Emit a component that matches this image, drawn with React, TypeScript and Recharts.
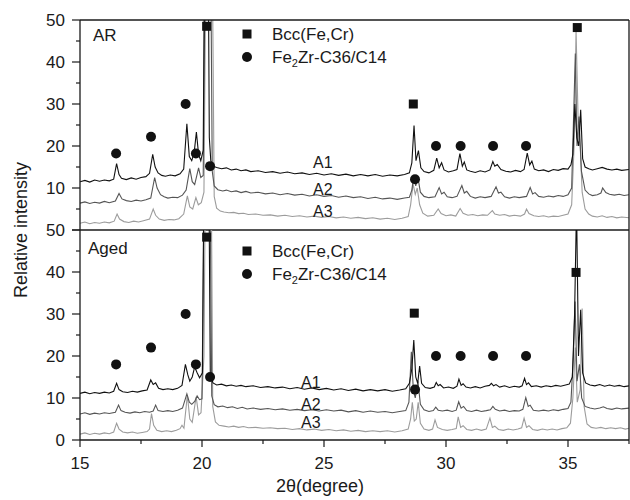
import React from "react";
import { LineChart, Line, XAxis, YAxis, Scatter } from "recharts";

const FONT = "'Liberation Sans', Arial, sans-serif";
const INK = "#1a1a1a";

// tick positions
const xTicks = [15, 17.5, 20, 22.5, 25, 27.5, 30, 32.5, 35, 37.5];
const xMajor = [15, 20, 25, 30, 35];
const yTicks = [0, 5, 10, 15, 20, 25, 30, 35, 40, 45, 50];
const yMajor = [0, 10, 20, 30, 40, 50];
const yLabelsTop = [10, 20, 30, 40, 50];
const yLabelsBottom = [0, 10, 20, 30, 40, 50];

// AR panel, [2theta, intensity]
const arA1 = [
  [15.0, 11.5], [15.2, 11.8], [15.4, 11.4], [15.6, 11.9], [15.8, 11.6], [16.0, 11.9], [16.2, 11.7], [16.38, 12.1],
  [16.5, 15.8], [16.6, 13.2], [16.7, 12.3], [16.9, 12.0], [17.1, 12.4], [17.3, 12.1], [17.5, 12.5], [17.7, 12.7],
  [17.85, 13.5], [17.98, 18.0], [18.08, 15.0], [18.2, 13.6], [18.35, 13.0], [18.5, 12.8], [18.7, 13.1], [18.9, 12.9],
  [19.1, 13.4], [19.25, 14.5], [19.38, 25.3], [19.48, 17.5], [19.58, 16.5], [19.68, 18.5], [19.77, 23.3], [19.86, 18.0],
  [19.95, 16.5], [20.05, 19.0], [20.12, 80], [20.24, 80], [20.3, 22], [20.36, 16.5], [20.45, 15.2], [20.6, 14.9],
  [20.8, 14.6], [21.0, 14.8], [21.2, 14.3], [21.4, 14.5], [21.6, 14.1], [21.8, 14.3], [22.0, 13.9], [22.3, 14.1],
  [22.6, 13.7], [22.9, 13.9], [23.2, 13.5], [23.5, 13.8], [23.8, 13.4], [24.1, 13.6], [24.4, 13.2], [24.7, 13.5],
  [25.0, 13.1], [25.3, 13.4], [25.6, 13.0], [25.9, 13.3], [26.2, 12.9], [26.5, 13.2], [26.8, 12.9], [27.1, 13.2],
  [27.4, 12.8], [27.7, 13.1], [28.0, 12.9], [28.3, 13.2], [28.5, 13.6], [28.6, 16.0], [28.69, 24.9], [28.77, 16.5],
  [28.87, 18.9], [28.97, 14.8], [29.1, 13.9], [29.3, 13.6], [29.5, 14.2], [29.62, 17.1], [29.72, 14.8], [29.82, 16.0],
  [29.92, 14.3], [30.1, 13.8], [30.3, 14.1], [30.45, 14.4], [30.57, 18.2], [30.67, 15.2], [30.75, 16.2], [30.85, 14.3],
  [31.0, 14.0], [31.2, 13.7], [31.4, 14.1], [31.6, 13.8], [31.8, 14.3], [31.92, 16.3], [32.0, 15.2], [32.1, 15.6],
  [32.25, 14.4], [32.45, 14.0], [32.65, 13.8], [32.85, 14.2], [33.05, 13.9], [33.2, 14.4], [33.33, 18.3], [33.43, 15.5],
  [33.52, 16.4], [33.62, 14.5], [33.8, 14.1], [34.0, 14.3], [34.2, 13.9], [34.4, 14.4], [34.6, 14.2], [34.8, 14.6],
  [35.0, 14.5], [35.12, 15.5], [35.2, 18], [35.28, 30], [35.36, 22], [35.44, 20], [35.52, 28.6], [35.6, 17],
  [35.7, 15], [35.85, 14.6], [36.0, 14.3], [36.2, 14.6], [36.4, 14.9], [36.6, 14.5], [36.8, 14.3], [37.0, 14.5],
  [37.2, 14.2], [37.5, 14.4],
];

const arA2 = [
  [15.0, 6.4], [15.2, 6.7], [15.4, 6.3], [15.6, 6.6], [15.8, 6.4], [16.0, 6.8], [16.2, 6.5], [16.45, 6.9],
  [16.6, 8.7], [16.72, 7.4], [16.9, 7.0], [17.1, 6.8], [17.3, 7.1], [17.5, 6.9], [17.7, 7.2], [17.9, 7.6],
  [18.06, 12.5], [18.16, 10.0], [18.3, 8.4], [18.45, 7.9], [18.6, 7.6], [18.8, 7.8], [19.0, 7.7], [19.2, 8.3],
  [19.35, 9.5], [19.5, 14.6], [19.6, 11.5], [19.7, 10.8], [19.86, 14.8], [19.95, 12.5], [20.05, 13], [20.15, 80],
  [20.34, 80], [20.42, 14], [20.5, 10.5], [20.65, 9.6], [20.85, 9.3], [21.0, 9.5], [21.2, 9.1], [21.4, 9.3],
  [21.6, 8.9], [21.8, 9.2], [22.0, 8.8], [22.3, 9.0], [22.6, 8.6], [22.9, 8.8], [23.2, 8.4], [23.5, 8.7],
  [23.8, 8.3], [24.1, 8.5], [24.4, 8.1], [24.7, 8.4], [25.0, 8.0], [25.3, 8.2], [25.6, 7.8], [25.9, 8.1],
  [26.2, 7.7], [26.5, 7.9], [26.8, 7.5], [27.1, 7.8], [27.4, 7.4], [27.7, 7.6], [28.0, 7.3], [28.3, 7.6],
  [28.5, 7.8], [28.6, 9.5], [28.68, 13.0], [28.76, 10.5], [28.85, 12.5], [28.95, 9.0], [29.1, 8.0], [29.3, 7.7],
  [29.55, 7.9], [29.72, 10.1], [29.82, 8.6], [29.92, 9.0], [30.05, 7.9], [30.25, 7.7], [30.45, 8.0], [30.65, 10.6],
  [30.75, 8.8], [30.85, 9.2], [31.0, 8.0], [31.2, 7.6], [31.4, 7.9], [31.6, 7.7], [31.85, 8.0], [32.05, 10.3],
  [32.15, 8.8], [32.25, 9.0], [32.4, 7.9], [32.6, 7.6], [32.8, 7.9], [33.0, 7.7], [33.3, 8.0], [33.45, 10.1],
  [33.55, 8.6], [33.65, 8.9], [33.8, 8.0], [34.0, 7.8], [34.2, 8.1], [34.4, 7.9], [34.6, 8.2], [34.8, 8.0],
  [35.0, 8.4], [35.15, 10], [35.3, 42], [35.37, 20], [35.45, 27], [35.55, 14], [35.7, 9.5], [35.85, 8.6],
  [36.0, 8.2], [36.2, 8.4], [36.35, 8.8], [36.42, 10.0], [36.55, 8.9], [36.7, 8.5], [36.9, 8.3], [37.1, 8.5],
  [37.3, 8.2], [37.5, 8.4],
];

const arA3 = [
  [15.0, 1.6], [15.2, 1.9], [15.4, 1.5], [15.6, 1.8], [15.8, 1.6], [16.0, 1.9], [16.2, 1.7], [16.4, 2.1],
  [16.52, 3.8], [16.62, 2.6], [16.8, 2.0], [17.0, 1.8], [17.2, 2.1], [17.4, 1.9], [17.6, 2.2], [17.85, 2.6],
  [18.0, 5.0], [18.1, 3.5], [18.25, 2.6], [18.45, 2.3], [18.65, 2.5], [18.85, 2.4], [19.05, 2.7], [19.25, 3.8],
  [19.4, 8.1], [19.5, 5.5], [19.62, 5.0], [19.75, 7.7], [19.85, 6.0], [19.97, 6.5], [20.08, 9], [20.18, 80],
  [20.4, 80], [20.5, 8], [20.6, 5.2], [20.75, 4.5], [20.9, 4.3], [21.1, 4.1], [21.3, 4.2], [21.5, 3.9],
  [21.7, 4.0], [21.9, 3.7], [22.2, 3.8], [22.5, 3.5], [22.8, 3.6], [23.1, 3.3], [23.4, 3.5], [23.7, 3.2],
  [24.0, 3.4], [24.3, 3.1], [24.6, 3.3], [24.9, 3.0], [25.2, 3.2], [25.5, 2.9], [25.8, 3.1], [26.1, 2.8],
  [26.4, 3.0], [26.7, 2.7], [27.0, 2.9], [27.3, 2.6], [27.6, 2.8], [27.9, 2.5], [28.2, 2.8], [28.45, 3.2],
  [28.55, 6], [28.65, 11.0], [28.74, 8.5], [28.82, 10.0], [28.92, 6.0], [29.05, 4.0], [29.25, 3.3], [29.5, 3.5],
  [29.68, 5.0], [29.8, 3.9], [30.0, 3.4], [30.2, 3.6], [30.4, 3.3], [30.58, 5.1], [30.7, 4.0], [30.9, 3.5],
  [31.1, 3.7], [31.3, 3.4], [31.5, 3.6], [31.7, 3.5], [31.9, 4.6], [32.0, 3.8], [32.2, 3.5], [32.4, 3.7],
  [32.6, 3.3], [32.8, 3.5], [33.05, 3.3], [33.22, 3.8], [33.3, 5.0], [33.4, 3.9], [33.6, 3.4], [33.8, 3.2],
  [34.0, 3.4], [34.2, 3.1], [34.4, 3.3], [34.6, 3.2], [34.8, 3.5], [35.0, 3.8], [35.15, 6], [35.25, 20],
  [35.33, 47.5], [35.42, 25], [35.5, 20], [35.58, 9], [35.7, 5], [35.85, 3.8], [36.0, 3.3], [36.2, 3.1],
  [36.4, 3.4], [36.6, 3.0], [36.8, 3.2], [37.0, 2.9], [37.2, 3.1], [37.5, 2.9],
];

// Aged panel
const agA1 = [
  [15.0, 11.1], [15.2, 11.4], [15.4, 11.0], [15.6, 11.3], [15.8, 11.1], [16.0, 11.4], [16.2, 11.2], [16.38, 11.6],
  [16.5, 13.5], [16.6, 12.0], [16.75, 11.5], [16.95, 11.3], [17.15, 11.6], [17.35, 11.4], [17.55, 11.7], [17.75, 11.9],
  [17.9, 14.3], [18.0, 13.2], [18.1, 13.6], [18.22, 12.3], [18.4, 12.0], [18.6, 12.2], [18.8, 12.0], [19.0, 12.3],
  [19.18, 13.0], [19.32, 18.0], [19.42, 15.5], [19.5, 14.0], [19.6, 15.0], [19.7, 17.4], [19.8, 16.0], [19.9, 14.8],
  [20.02, 16.0], [20.1, 80], [20.26, 80], [20.34, 15.5], [20.45, 13.6], [20.6, 13.1], [20.8, 13.3], [21.0, 12.9],
  [21.2, 13.1], [21.4, 12.8], [21.6, 13.0], [21.8, 12.7], [22.1, 12.9], [22.4, 12.5], [22.7, 12.7], [23.0, 12.4],
  [23.3, 12.6], [23.6, 12.2], [23.9, 12.5], [24.2, 12.1], [24.5, 12.4], [24.8, 12.0], [25.1, 12.3], [25.4, 11.9],
  [25.7, 12.2], [26.0, 11.8], [26.3, 12.1], [26.6, 11.7], [26.9, 12.0], [27.2, 11.7], [27.5, 12.0], [27.8, 11.6],
  [28.1, 11.9], [28.35, 12.2], [28.5, 13.5], [28.6, 17], [28.68, 23.8], [28.76, 15], [28.84, 13.5], [28.92, 17.6],
  [29.0, 13.5], [29.15, 12.5], [29.35, 12.3], [29.52, 12.6], [29.6, 13.7], [29.68, 12.9], [29.76, 13.2], [29.9, 12.4],
  [30.1, 12.6], [30.3, 12.3], [30.45, 12.8], [30.53, 14.5], [30.62, 13.0], [30.7, 13.4], [30.82, 12.6], [31.0, 12.4],
  [31.2, 12.7], [31.4, 12.4], [31.6, 12.8], [31.78, 13.0], [31.86, 13.5], [31.95, 12.9], [32.05, 13.2], [32.2, 12.6],
  [32.4, 12.9], [32.6, 12.5], [32.8, 12.8], [33.0, 12.6], [33.12, 12.9], [33.22, 14.7], [33.3, 13.2], [33.38, 13.6],
  [33.5, 12.7], [33.7, 12.9], [33.9, 12.6], [34.1, 12.9], [34.3, 12.7], [34.5, 13.0], [34.7, 12.8], [34.9, 13.1],
  [35.05, 13.3], [35.18, 15], [35.27, 30], [35.35, 56], [35.43, 20], [35.52, 31], [35.6, 16], [35.72, 13.6],
  [35.9, 13.1], [36.1, 12.9], [36.3, 13.2], [36.5, 12.8], [36.7, 13.1], [36.9, 12.8], [37.1, 13.0], [37.3, 12.7],
  [37.5, 12.9],
];

const agA2 = [
  [15.0, 6.2], [15.2, 6.5], [15.4, 6.1], [15.6, 6.4], [15.8, 6.2], [16.0, 6.5], [16.2, 6.3], [16.45, 6.6],
  [16.58, 8.3], [16.68, 7.0], [16.85, 6.6], [17.05, 6.4], [17.25, 6.7], [17.45, 6.5], [17.65, 6.8], [17.85, 6.6],
  [18.0, 6.9], [18.1, 8.3], [18.2, 7.0], [18.4, 6.8], [18.6, 7.0], [18.8, 6.8], [19.0, 7.1], [19.2, 7.6],
  [19.38, 11.0], [19.48, 9.0], [19.58, 8.5], [19.7, 9.2], [19.8, 10.5], [19.9, 9.6], [20.0, 9.8], [20.12, 80],
  [20.3, 80], [20.4, 10.5], [20.5, 8.4], [20.65, 7.9], [20.85, 8.1], [21.05, 7.7], [21.25, 7.9], [21.45, 7.5],
  [21.65, 7.8], [21.85, 7.4], [22.1, 7.6], [22.4, 7.3], [22.7, 7.5], [23.0, 7.2], [23.3, 7.4], [23.6, 7.1],
  [23.9, 7.3], [24.2, 7.0], [24.5, 7.2], [24.8, 6.9], [25.1, 7.2], [25.4, 6.9], [25.7, 7.1], [26.0, 6.7],
  [26.3, 7.0], [26.6, 6.6], [26.9, 6.9], [27.2, 6.6], [27.5, 6.8], [27.8, 6.5], [28.1, 6.8], [28.35, 7.0],
  [28.48, 9], [28.58, 21], [28.66, 12], [28.74, 10], [28.85, 14], [28.95, 8.5], [29.1, 7.2], [29.3, 6.8],
  [29.48, 7.0], [29.58, 7.8], [29.68, 7.1], [29.85, 6.9], [30.05, 7.1], [30.25, 6.8], [30.42, 7.1], [30.52, 9.1],
  [30.62, 7.6], [30.72, 8.0], [30.85, 7.0], [31.05, 6.8], [31.25, 7.1], [31.45, 6.8], [31.65, 7.0], [31.82, 7.2],
  [31.92, 8.0], [32.02, 7.3], [32.2, 6.9], [32.4, 7.1], [32.6, 6.8], [32.8, 7.0], [33.0, 6.9], [33.15, 7.3],
  [33.27, 10.1], [33.37, 8.0], [33.45, 8.3], [33.58, 7.1], [33.8, 6.9], [34.0, 7.1], [34.2, 6.9], [34.4, 7.2],
  [34.6, 7.0], [34.8, 7.3], [35.0, 7.5], [35.12, 9], [35.22, 20], [35.29, 33], [35.37, 14], [35.47, 18],
  [35.56, 10], [35.7, 8.0], [35.9, 7.6], [36.1, 7.4], [36.3, 7.6], [36.45, 7.9], [36.6, 7.5], [36.8, 7.3],
  [37.0, 7.6], [37.2, 7.4], [37.5, 7.6],
];

const agA3 = [
  [15.0, 1.4], [15.2, 1.7], [15.4, 1.3], [15.6, 1.6], [15.8, 1.4], [16.0, 1.7], [16.2, 1.5], [16.38, 1.9],
  [16.5, 4.0], [16.6, 2.6], [16.75, 1.9], [16.95, 1.7], [17.15, 1.9], [17.35, 1.6], [17.55, 1.8], [17.75, 2.0],
  [17.85, 2.6], [17.93, 6.3], [18.02, 3.5], [18.15, 2.3], [18.35, 2.0], [18.55, 2.2], [18.75, 2.0], [18.95, 2.3],
  [19.1, 2.7], [19.18, 3.5], [19.26, 2.8], [19.4, 10.7], [19.5, 5], [19.6, 4.2], [19.76, 10.3], [19.86, 6],
  [19.96, 6.5], [20.08, 20], [20.16, 80], [20.36, 80], [20.44, 8], [20.55, 4.3], [20.7, 3.5], [20.9, 3.3],
  [21.1, 3.1], [21.3, 3.3], [21.5, 3.0], [21.7, 3.2], [21.9, 2.9], [22.2, 3.0], [22.5, 2.8], [22.8, 2.9],
  [23.1, 2.7], [23.4, 2.8], [23.7, 2.5], [24.0, 2.7], [24.3, 2.4], [24.6, 2.6], [24.9, 2.3], [25.2, 2.5],
  [25.5, 2.2], [25.8, 2.4], [26.1, 2.1], [26.4, 2.3], [26.7, 2.0], [27.0, 2.2], [27.3, 2.0], [27.6, 2.2],
  [27.9, 1.9], [28.2, 2.2], [28.45, 2.6], [28.55, 5], [28.62, 9], [28.7, 4.5], [28.78, 5], [28.86, 9],
  [28.95, 4], [29.1, 2.6], [29.3, 2.3], [29.45, 2.6], [29.55, 4.8], [29.65, 3.0], [29.85, 2.5], [30.05, 2.3],
  [30.25, 2.5], [30.42, 2.7], [30.5, 5.5], [30.6, 3.0], [30.7, 3.4], [30.85, 2.5], [31.05, 2.3], [31.25, 2.6],
  [31.45, 2.3], [31.65, 2.6], [31.8, 5.2], [31.9, 3.0], [32.0, 3.3], [32.15, 2.5], [32.35, 2.3], [32.55, 2.6],
  [32.75, 2.4], [32.95, 2.6], [33.1, 2.9], [33.2, 5.2], [33.3, 3.0], [33.4, 3.4], [33.55, 2.5], [33.75, 2.3],
  [33.95, 2.6], [34.15, 2.4], [34.35, 2.6], [34.55, 2.4], [34.75, 2.7], [34.95, 2.9], [35.1, 4], [35.2, 10],
  [35.3, 22], [35.38, 9], [35.5, 12], [35.58, 31.3], [35.66, 8], [35.78, 3.8], [35.95, 3.0], [36.15, 2.8],
  [36.35, 3.0], [36.55, 2.7], [36.75, 2.9], [36.95, 2.7], [37.15, 2.9], [37.35, 2.6], [37.5, 2.8],
];

// phase markers
const arBcc = [[20.19, 48.5], [28.66, 30], [35.38, 48.2]];
const arFe2Zr = [[16.48, 18.2], [17.91, 22.2], [19.33, 30], [19.75, 18.2], [20.33, 15.2], [28.73, 12.1], [29.59, 20], [30.6, 20], [31.93, 20], [33.28, 20]];
const agBcc = [[20.19, 48.3], [28.7, 30.2], [35.33, 39.9]];
const agFe2Zr = [[16.48, 18], [17.91, 22], [19.33, 30], [19.75, 18], [20.33, 15], [28.73, 12], [29.59, 20], [30.6, 20], [31.93, 20], [33.28, 20]];

const toPts = (a: number[][]) => a.map(([x, y]) => ({ x, y }));

const PLOT_LEFT = 80;
const PLOT_BOTTOM = 440;

function makeYTick(labels: number[]) {
  return (props: any) => {
    const v = props.payload.value;
    const major = yMajor.includes(v);
    const y = props.y;
    return (
      <g>
        <line x1={PLOT_LEFT - (major ? 8 : 4)} x2={PLOT_LEFT} y1={y} y2={y} stroke={INK} strokeWidth={1.2} />
        {labels.includes(v) && (
          <text x={PLOT_LEFT - 15} y={y + 6} textAnchor="end" fontSize={17} fontFamily={FONT} fill={INK}>
            {v}
          </text>
        )}
      </g>
    );
  };
}

function XTick(props: any) {
  const v = props.payload.value;
  const major = xMajor.includes(v);
  const x = props.x;
  return (
    <g>
      <line x1={x} x2={x} y1={PLOT_BOTTOM} y2={PLOT_BOTTOM + (major ? 7 : 4)} stroke={INK} strokeWidth={1.2} />
      {major && (
        <text x={x} y={PLOT_BOTTOM + 29} textAnchor="middle" fontSize={17} fontFamily={FONT} fill={INK}>
          {v}
        </text>
      )}
    </g>
  );
}

const squareShape = (p: any) => <rect x={p.cx - 4.5} y={p.cy - 4.5} width={9} height={9} fill="#111" />;
const circleShape = (p: any) => <circle cx={p.cx} cy={p.cy} r={5} fill="#111" />;

const axisLine = { stroke: INK, strokeWidth: 1.3 };

function Panel({
  a1, a2, a3, bcc, fe, top, height, labels, bottomAxis,
}: any) {
  return (
    <div style={{ position: "absolute", left: 0, top: 0 }}>
      <LineChart width={630} height={height} margin={{ top, right: 0, bottom: 0, left: 0 }}>
        <XAxis
          dataKey="x"
          type="number"
          domain={[15, 37.5]}
          allowDataOverflow
          ticks={bottomAxis ? xTicks : xMajor}
          interval={0}
          height={bottomAxis ? 60 : 1}
          axisLine={axisLine}
          tickLine={bottomAxis ? false : { stroke: INK }}
          tickSize={bottomAxis ? 7 : -5}
          tick={bottomAxis ? XTick : false}
        />
        {!bottomAxis && (
          <XAxis
            xAxisId="top"
            orientation="top"
            type="number"
            domain={[15, 37.5]}
            allowDataOverflow
            ticks={xMajor}
            interval={0}
            height={1}
            axisLine={axisLine}
            tickLine={{ stroke: INK }}
            tickSize={-5}
            tick={false}
          />
        )}
        <YAxis
          dataKey="y"
          type="number"
          domain={[0, 50]}
          allowDataOverflow
          ticks={yTicks}
          interval={0}
          width={80}
          axisLine={axisLine}
          tickLine={false}
          tickSize={8}
          tickMargin={7}
          tick={makeYTick(labels)}
        />
        <YAxis
          yAxisId="r"
          orientation="right"
          type="number"
          domain={[0, 50]}
          ticks={yMajor}
          interval={0}
          width={1}
          axisLine={axisLine}
          tickLine={{ stroke: INK }}
          tickSize={-4}
          tick={false}
        />
        <Line data={toPts(a3)} dataKey="y" stroke="#9c9c9c" strokeWidth={1.1} dot={false} isAnimationActive={false} />
        <Line data={toPts(a2)} dataKey="y" stroke="#555" strokeWidth={1.1} dot={false} isAnimationActive={false} />
        <Line data={toPts(a1)} dataKey="y" stroke="#111" strokeWidth={1.1} dot={false} isAnimationActive={false} />
        <Scatter data={toPts(bcc)} dataKey="y" shape={squareShape} isAnimationActive={false} />
        <Scatter data={toPts(fe)} dataKey="y" shape={circleShape} isAnimationActive={false} />
      </LineChart>
    </div>
  );
}

function Legend({ y }: { y: number }) {
  return (
    <g fontFamily={FONT} fontSize={17} fill={INK}>
      <rect x={242.5} y={y - 4.5} width={9} height={9} fill="#111" />
      <text x={272} y={y + 6}>Bcc(Fe,Cr)</text>
      <circle cx={247} cy={y + 23} r={5} fill="#111" />
      <text x={272} y={y + 29}>
        Fe<tspan fontSize={11} dy={4}>2</tspan>
        <tspan dy={-4}>Zr-C36/C14</tspan>
      </text>
    </g>
  );
}

export default function App() {
  return (
    <div style={{ position: "absolute", left: 0, top: 0, width: 630, height: 500, background: "#fff" }}>
      <Panel a1={arA1} a2={arA2} a3={arA3} bcc={arBcc} fe={arFe2Zr} top={19} height={231} labels={yLabelsTop} bottomAxis={false} />
      <Panel a1={agA1} a2={agA2} a3={agA3} bcc={agBcc} fe={agFe2Zr} top={230} height={500} labels={yLabelsBottom} bottomAxis />
      <svg width={630} height={500} style={{ position: "absolute", left: 0, top: 0, pointerEvents: "none" }}>
        <g fontFamily={FONT} fill={INK}>
          <text x={93} y={41} fontSize={17}>AR</text>
          <text x={88} y={254} fontSize={17}>Aged</text>
          <text x={313} y={168} fontSize={16}>A1</text>
          <text x={313} y={195} fontSize={16}>A2</text>
          <text x={313} y={217} fontSize={16}>A3</text>
          <text x={301} y={388} fontSize={16}>A1</text>
          <text x={301} y={410} fontSize={16}>A2</text>
          <text x={301} y={428} fontSize={16}>A3</text>
          <text x={320} y={492} fontSize={18} textAnchor="middle">2θ(degree)</text>
          <text x={22} y={230} fontSize={18} textAnchor="middle" dominantBaseline="middle" transform="rotate(-90 22 230)">
            Relative intensity
          </text>
        </g>
        <Legend y={34} />
        <Legend y={251} />
      </svg>
    </div>
  );
}
